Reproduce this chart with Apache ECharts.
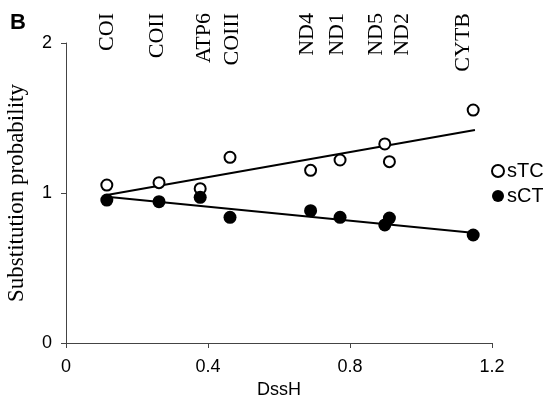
<!DOCTYPE html>
<html>
<head>
<meta charset="utf-8">
<script src="https://cdn.jsdelivr.net/npm/echarts@6/dist/echarts.min.js"></script>
<style>
html,body{margin:0;padding:0;background:#fff;}
#chart{width:543px;height:396px;}
</style>
</head>
<body>
<div id="chart"></div>
<script>
// Data
const genes = ['COI', 'COII', 'ATP6', 'COIII', 'ND4', 'ND1', 'ND5', 'ND2', 'CYTB'];
const dssH = [0.115, 0.262, 0.378, 0.462, 0.689, 0.772, 0.898, 0.911, 1.147];
const sTC = [1.053, 1.069, 1.029, 1.238, 1.151, 1.220, 1.327, 1.209, 1.553];
const sCT = [0.953, 0.942, 0.971, 0.838, 0.882, 0.838, 0.787, 0.833, 0.720];
const geneLabelX = [0.115, 0.258, 0.389, 0.468, 0.679, 0.765, 0.873, 0.948, 1.118];
const trendTC = [[0.115, 0.987], [1.152, 1.420]];
const trendCT = [[0.115, 0.975], [1.152, 0.733]];
const xTicks = [0, 0.4, 0.8, 1.2];
const yTicks = [0, 1, 2];

const chart = echarts.init(document.getElementById('chart'));
const sans = 'Liberation Sans, Arial, sans-serif';
const serif = 'Liberation Serif, Times New Roman, serif';

const option = {
  backgroundColor: '#fff',
  animation: false,
  title: {
    text: 'B', left: 5, top: 7,
    textStyle: { fontFamily: sans, fontWeight: 'bold', fontSize: 22, color: '#000' }
  },
  grid: { left: 66, right: 51, top: 43, bottom: 53, containLabel: false, outerBoundsMode: 'none' },
  legend: {
    orient: 'vertical', left: 491, top: 161, itemGap: 5,
    itemWidth: 12, itemHeight: 12, padding: 0,
    data: ['sTC', 'sCT'],
    textStyle: { fontFamily: sans, fontSize: 20, color: '#000', padding: [0, 0, 0, -2] }
  },
  xAxis: {
    type: 'value', min: xTicks[0], max: xTicks[xTicks.length - 1], interval: 0.4,
    name: 'DssH', nameLocation: 'middle', nameGap: 35,
    nameTextStyle: { fontFamily: sans, fontSize: 18, color: '#000' },
    axisLine: { lineStyle: { color: '#444', width: 1 } },
    axisTick: { show: true, length: 5, inside: false, lineStyle: { color: '#444' } },
    axisLabel: { fontFamily: sans, fontSize: 18, color: '#000', margin: 15,
      formatter: v => (xTicks.indexOf(+v.toFixed(1)) >= 0 ? String(+v.toFixed(1)) : '') },
    splitLine: { show: false }
  },
  yAxis: {
    type: 'value', min: yTicks[0], max: yTicks[yTicks.length - 1], interval: 1,
    name: 'Substitution probability', nameLocation: 'middle', nameGap: 38,
    nameTextStyle: { fontFamily: serif, fontSize: 23, color: '#000' },
    axisLine: { show: true, lineStyle: { color: '#444', width: 1 } },
    axisTick: { show: true, length: 5, lineStyle: { color: '#444' } },
    axisLabel: { fontFamily: sans, fontSize: 18, color: '#000', margin: 14 },
    splitLine: { show: false }
  },
  series: [
    {
      name: 'trendTC', type: 'line', data: trendTC, symbol: 'none', z: 1,
      lineStyle: { color: '#000', width: 2 }, silent: true
    },
    {
      name: 'trendCT', type: 'line', data: trendCT, symbol: 'none', z: 1,
      lineStyle: { color: '#000', width: 2 }, silent: true
    },
    {
      name: 'sTC', type: 'scatter', z: 3,
      data: dssH.map((x, i) => [x, sTC[i]]),
      symbol: 'circle', symbolSize: 11,
      itemStyle: { color: '#fff', borderColor: '#000', borderWidth: 2, opacity: 1 }
    },
    {
      name: 'sCT', type: 'scatter', z: 3,
      data: dssH.map((x, i) => [x, sCT[i]]),
      symbol: 'circle', symbolSize: 13,
      itemStyle: { color: '#000', opacity: 1 }
    }
  ]
};
chart.setOption(option);

const labels = genes.map((g, i) => {
  const px = chart.convertToPixel({ xAxisIndex: 0 }, geneLabelX[i]);
  return {
    type: 'text', x: px, y: 13, rotation: Math.PI / 2,
    style: { text: g, font: '22px ' + serif, fill: '#000', align: 'right', verticalAlign: 'middle' }
  };
});
chart.setOption({ graphic: labels });
</script>
</body>
</html>
